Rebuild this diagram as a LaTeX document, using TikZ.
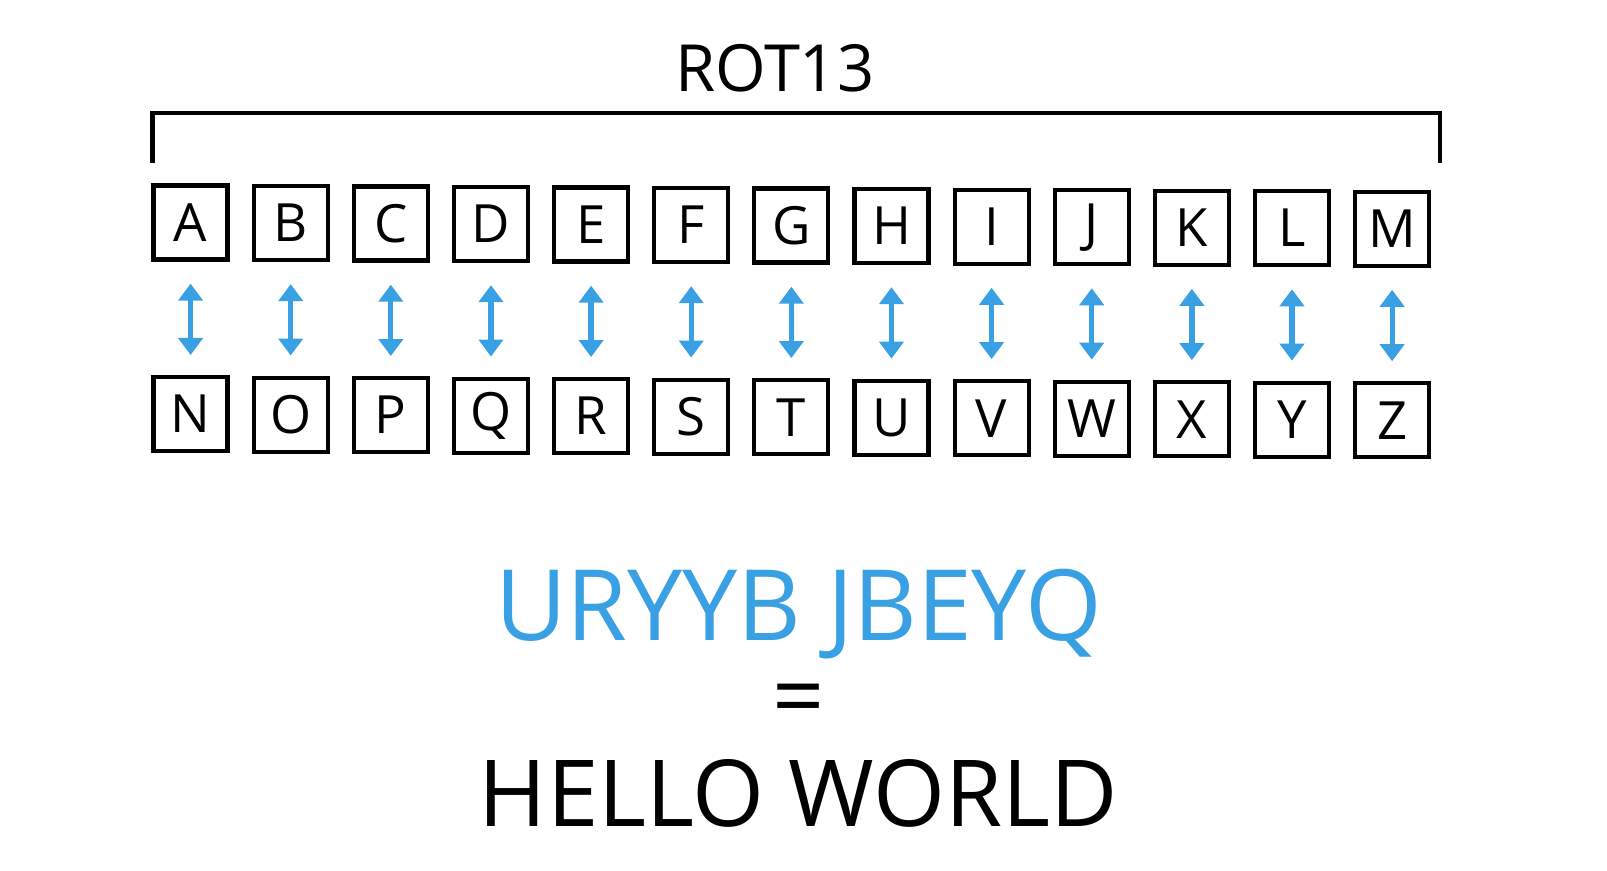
\documentclass[tikz,border=0pt]{standalone}
\usepackage{fontspec}
\setmainfont{Open Sans}
\usetikzlibrary{arrows.meta}
\definecolor{rotblue}{RGB}{58,160,228}
\begin{document}
\begin{tikzpicture}[x=0.0103cm,y=-0.0103cm]
\tikzset{letter/.style={draw,line width=1.2pt,minimum size=0.74cm,inner sep=0pt,font=\fontsize{15}{15}\selectfont},
swap/.style={rotblue,line width=1.5pt,{Triangle[width=0.24cm,length=0.17cm]}-{Triangle[width=0.24cm,length=0.17cm]}}}
\useasboundingbox (0,0) rectangle (1560,844.6);
% bracket
\coordinate (bl) at (148,158);
\coordinate (tl) at (148,110);
\coordinate (tr) at (1398,110);
\coordinate (br) at (1398,158);
\draw [line width=1.2pt] (bl) -- (tl) -- (tr) -- (br);
\node (rot) at (752,66) {\fontsize{18.5}{18.5}\selectfont ROT13};
% letter pairs
\foreach \t/\b [count=\i from 0] in {A/N,B/O,C/P,D/Q,E/R,F/S,G/T,H/U,I/V,J/W,K/X,L/Y,M/Z}
{
\node [letter] (t\i) at (185+97.2*\i,216+0.5*\i) {\t};
\node [letter] (b\i) at (185+97.2*\i,402+0.5*\i) {\b};
\draw [swap] ([yshift=-0.22cm]t\i.south) -- ([yshift=0.2cm]b\i.north);
}
% words
\node [rotblue] (code) at (775,596) {\fontsize{28}{28}\selectfont URYYB JBEYQ};
\node (eq) at (775,686) {\fontsize{26}{26}\selectfont =};
\node (plain) at (775,770) {\fontsize{26.3}{26.3}\selectfont HELLO WORLD};
\end{tikzpicture}
\end{document}
